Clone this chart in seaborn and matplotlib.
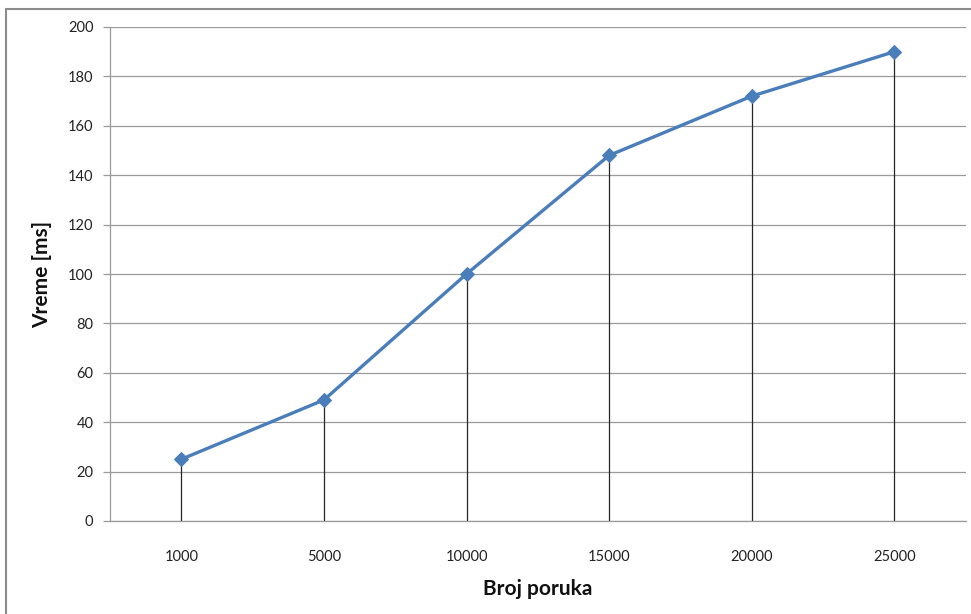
import matplotlib
matplotlib.use("Agg")
import matplotlib.pyplot as plt
import matplotlib.patches as mpatches
import seaborn as sns
import pandas as pd
import numpy as np

categories = ["1000", "5000", "10000", "15000", "20000", "25000"]
values = [25, 49, 100, 148, 172, 190]
y_ticks = [0, 20, 40, 60, 80, 100, 120, 140, 160, 180, 200]

sns.set_theme(style="white")
plt.rcParams['font.family'] = ['Lato', 'DejaVu Sans']

W, H = 971, 614
fig = plt.figure(figsize=(W / 100, H / 100), dpi=100)
ax = fig.add_axes([110 / W, 1 - 521 / H, (965.6 - 110) / W, (521 - 27) / H])

df = pd.DataFrame({"pos": np.arange(len(categories)), "val": values})

ax.vlines(df["pos"], 0, df["val"], color="#262626", lw=0.9, zorder=2)
sns.lineplot(data=df, x="pos", y="val", ax=ax, color="#4A7EBB", lw=2.4,
             marker="D", markersize=7, markeredgecolor="#4A7EBB", zorder=3)

ax.set_xlim(-0.5, len(categories) - 0.5)
ax.set_ylim(0, 200)
ax.set_yticks(y_ticks)
ax.set_yticklabels([str(t) for t in y_ticks], fontsize=10.5, color="#222222")
ax.set_xticks(df["pos"])
ax.set_xticklabels(categories, fontsize=10.5, color="#222222")
ax.yaxis.grid(True, color="#9a9a9a", lw=0.9)
ax.set_axisbelow(True)

for s in ["top", "right"]:
    ax.spines[s].set_visible(False)
for s in ["left", "bottom"]:
    ax.spines[s].set_visible(True)
    ax.spines[s].set_color("#9a9a9a")
    ax.spines[s].set_linewidth(0.9)

ax.tick_params(axis="y", which="both", left=True, length=5, width=0.9, color="#9a9a9a", pad=7)
ax.tick_params(axis="x", which="both", bottom=False, pad=15)

ax.set_xlabel("Broj poruka", fontsize=15, fontweight="bold", labelpad=11, color="#111111")
ax.set_ylabel("Vreme [ms]", fontsize=15, fontweight="bold", labelpad=11, color="#111111")

border = mpatches.Rectangle((6 / W, -0.1), 1.2, 1 - 9 / H + 0.1, transform=fig.transFigure,
                            fill=False, edgecolor="#8c8c8c", lw=1.5, clip_on=False)
fig.patches.append(border)

fig.savefig("out.png", dpi=100)
